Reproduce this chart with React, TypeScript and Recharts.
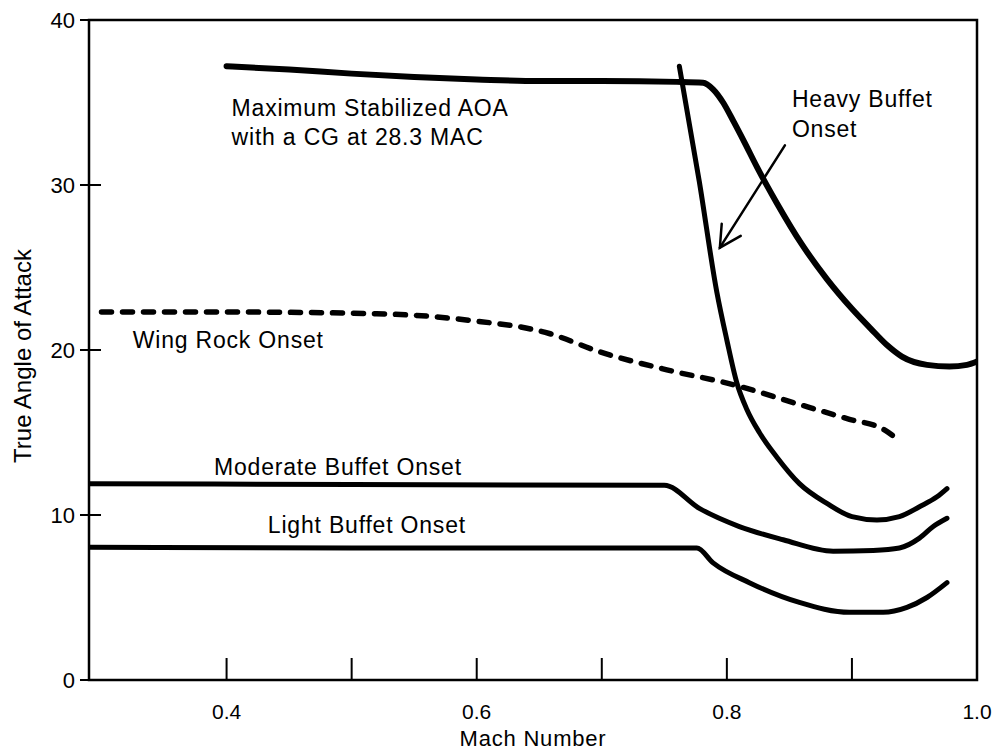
import React from 'react';
import {
  LineChart, Line, XAxis, YAxis, ReferenceArea, ReferenceDot, ReferenceLine,
} from 'recharts';

// Mach number (m) vs true angle of attack (a)
const maxStabilized = [
  { m: 0.40, a: 37.2 }, { m: 0.45, a: 37.0 }, { m: 0.50, a: 36.75 }, { m: 0.55, a: 36.55 },
  { m: 0.60, a: 36.4 }, { m: 0.65, a: 36.3 }, { m: 0.70, a: 36.3 }, { m: 0.76, a: 36.25 },
  { m: 0.781, a: 36.2 }, { m: 0.789, a: 35.8 }, { m: 0.797, a: 35.0 }, { m: 0.805, a: 33.9 },
  { m: 0.814, a: 32.6 }, { m: 0.824, a: 31.1 }, { m: 0.84, a: 28.9 }, { m: 0.86, a: 26.4 },
  { m: 0.88, a: 24.3 }, { m: 0.90, a: 22.5 }, { m: 0.915, a: 21.3 }, { m: 0.928, a: 20.3 },
  { m: 0.94, a: 19.6 }, { m: 0.96, a: 19.1 }, { m: 0.978, a: 19.0 }, { m: 0.992, a: 19.1 },
  { m: 1.0, a: 19.3 },
];

const heavyBuffet = [
  { m: 0.762, a: 37.2 }, { m: 0.778, a: 30.2 }, { m: 0.792, a: 23.5 }, { m: 0.80, a: 20.6 },
  { m: 0.808, a: 18.0 }, { m: 0.816, a: 16.4 }, { m: 0.826, a: 15.0 }, { m: 0.84, a: 13.5 },
  { m: 0.858, a: 11.9 }, { m: 0.88, a: 10.7 }, { m: 0.90, a: 9.9 }, { m: 0.92, a: 9.7 },
  { m: 0.938, a: 9.9 }, { m: 0.954, a: 10.5 }, { m: 0.968, a: 11.1 }, { m: 0.976, a: 11.6 },
];

const wingRock = [
  { m: 0.30, a: 22.3 }, { m: 0.40, a: 22.3 }, { m: 0.52, a: 22.2 }, { m: 0.594, a: 21.8 },
  { m: 0.658, a: 21.0 }, { m: 0.698, a: 19.9 }, { m: 0.752, a: 18.8 }, { m: 0.805, a: 17.9 },
  { m: 0.858, a: 16.7 }, { m: 0.898, a: 15.8 }, { m: 0.925, a: 15.2 }, { m: 0.938, a: 14.5 },
];

const moderateBuffet = [
  { m: 0.29, a: 11.9 }, { m: 0.50, a: 11.85 }, { m: 0.75, a: 11.8 }, { m: 0.778, a: 10.4 },
  { m: 0.81, a: 9.3 }, { m: 0.845, a: 8.5 }, { m: 0.885, a: 7.8 }, { m: 0.917, a: 7.85 },
  { m: 0.938, a: 8.0 }, { m: 0.954, a: 8.6 }, { m: 0.965, a: 9.3 }, { m: 0.976, a: 9.8 },
];

const lightBuffet = [
  { m: 0.29, a: 8.05 }, { m: 0.50, a: 8.0 }, { m: 0.776, a: 8.0 }, { m: 0.789, a: 7.1 },
  { m: 0.818, a: 5.9 }, { m: 0.858, a: 4.7 }, { m: 0.898, a: 4.1 }, { m: 0.925, a: 4.1 },
  { m: 0.944, a: 4.4 }, { m: 0.96, a: 5.0 }, { m: 0.976, a: 5.9 },
];

const xTicks = [0.4, 0.5, 0.6, 0.7, 0.8, 0.9, 1.0];
const yTicks = [0, 10, 20, 30, 40];

const notes = [
  { m: 0.404, a: 34.2, text: 'Maximum Stabilized AOA' },
  { m: 0.404, a: 32.4, text: 'with a CG at 28.3 MAC' },
  { m: 0.852, a: 34.7, text: 'Heavy Buffet' },
  { m: 0.852, a: 32.9, text: 'Onset' },
  { m: 0.325, a: 20.1, text: 'Wing Rock Onset' },
  { m: 0.39, a: 12.4, text: 'Moderate Buffet Onset' },
  { m: 0.433, a: 8.9, text: 'Light Buffet Onset' },
];

const arrowFrom = { m: 0.8464, a: 32.4 };
const arrowTo = { m: 0.7944, a: 26.2 };

const FONT = "'Liberation Sans', Arial, Helvetica, sans-serif";

const XTick = (props: any) => {
  const { x, y, payload } = props;
  const v = Number(payload.value);
  const labeled = Math.round(v * 10) % 2 === 0;
  return (
    <g>
      {v < 0.99 && <line x1={x} x2={x} y1={y} y2={y - 22} stroke="#000" strokeWidth={2} />}
      {labeled && (
        <text x={x} y={y + 39} textAnchor="middle" fontSize={21} fontFamily={FONT} fill="#000">
          {v.toFixed(1)}
        </text>
      )}
    </g>
  );
};

const YTick = (props: any) => {
  const { x, y, payload } = props;
  return (
    <g>
      <line x1={x - 9} x2={x + 12} y1={y} y2={y} stroke="#000" strokeWidth={2} />
      <text x={x - 14} y={y} dy="0.36em" textAnchor="end" fontSize={22} fontFamily={FONT} fill="#000">
        {payload.value}
      </text>
    </g>
  );
};

const Arrow = (props: any) => {
  const { x1, y1, x2, y2 } = props;
  const ang = Math.atan2(y1 - y2, x1 - x2);
  const len = 24;
  const spread = (28 * Math.PI) / 180;
  const w1x = x2 + len * Math.cos(ang + spread);
  const w1y = y2 + len * Math.sin(ang + spread);
  const w2x = x2 + len * Math.cos(ang - spread);
  const w2y = y2 + len * Math.sin(ang - spread);
  return (
    <g stroke="#000" strokeWidth={2.5} fill="none" strokeLinecap="round">
      <line x1={x1} y1={y1} x2={x2} y2={y2} />
      <polyline points={`${w1x},${w1y} ${x2},${y2} ${w2x},${w2y}`} />
    </g>
  );
};

export default function App() {
  return (
    <div style={{ position: 'absolute', left: 0, top: 0, width: 995, height: 751, background: '#fff' }}>
      <LineChart width={995} height={751} margin={{ top: 20, right: 18, left: 0, bottom: 0 }}>
        <XAxis
          type="number"
          dataKey="m"
          domain={[0.29, 1.0]}
          ticks={xTicks}
          interval={0}
          allowDataOverflow
          axisLine={false}
          tickLine={false}
          tickSize={0}
          tickMargin={0}
          tick={<XTick />}
          height={71}
          label={{
            content: (p: any) => (
              <text
                x={p.viewBox.x + p.viewBox.width / 2}
                y={p.viewBox.y + 66}
                textAnchor="middle"
                fontSize={22}
                letterSpacing={0.8}
                fontFamily={FONT}
                fill="#000"
              >
                Mach Number
              </text>
            ),
          }}
        />
        <YAxis
          type="number"
          dataKey="a"
          domain={[0, 40]}
          ticks={yTicks}
          interval={0}
          axisLine={false}
          tickLine={false}
          tickSize={0}
          tickMargin={0}
          tick={<YTick />}
          width={89}
          label={{
            content: (p: any) => {
              const cx = p.viewBox.x + 31;
              const cy = p.viewBox.y + p.viewBox.height / 2 + 6;
              return (
                <text
                  x={cx}
                  y={cy}
                  transform={`rotate(-90 ${cx} ${cy})`}
                  textAnchor="middle"
                  fontSize={24}
                  fontFamily={FONT}
                  fill="#000"
                >
                  True Angle of Attack
                </text>
              );
            },
          }}
        />
        <ReferenceArea x1={0.29} x2={1.0} y1={0} y2={40} fill="none" fillOpacity={0} stroke="#000" strokeWidth={2.5} />

        <Line data={maxStabilized} dataKey="a" type="monotone" stroke="#000" strokeWidth={6} dot={false} isAnimationActive={false} strokeLinecap="round" />
        <Line data={heavyBuffet} dataKey="a" type="monotone" stroke="#000" strokeWidth={5} dot={false} isAnimationActive={false} strokeLinecap="round" />
        <Line data={wingRock} dataKey="a" type="monotone" stroke="#000" strokeWidth={5.5} strokeDasharray="10 11" strokeLinecap="round" dot={false} isAnimationActive={false} />
        <Line data={moderateBuffet} dataKey="a" type="monotone" stroke="#000" strokeWidth={5} dot={false} isAnimationActive={false} strokeLinecap="round" />
        <Line data={lightBuffet} dataKey="a" type="monotone" stroke="#000" strokeWidth={5} dot={false} isAnimationActive={false} strokeLinecap="round" />

        <ReferenceLine
          segment={[{ x: arrowFrom.m, y: arrowFrom.a }, { x: arrowTo.m, y: arrowTo.a }]}
          stroke="#000"
          shape={<Arrow />}
        />
        {notes.map((n) => (
          <ReferenceDot
            key={n.text}
            x={n.m}
            y={n.a}
            r={0}
            ifOverflow="visible"
            shape={(p: any) => (
              <text x={p.cx} y={p.cy} fontSize={23} letterSpacing={0.8} fontFamily={FONT} fill="#000">
                {n.text}
              </text>
            )}
          />
        ))}
      </LineChart>
    </div>
  );
}
